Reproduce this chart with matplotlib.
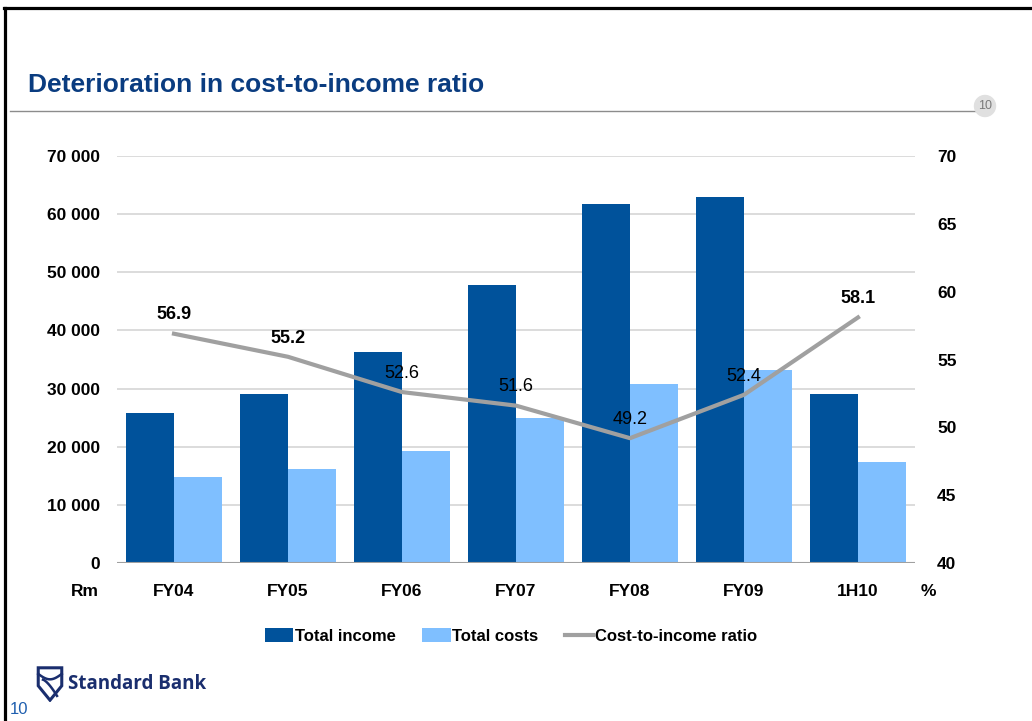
import numpy as np
import matplotlib as mpl
import matplotlib.pyplot as plt
from matplotlib.patches import Ellipse, Polygon
from matplotlib.lines import Line2D

plt.rcParams['font.family'] = ['Liberation Sans', 'DejaVu Sans']

### Data

periods = ["FY04", "FY05", "FY06", "FY07", "FY08", "FY09", "1H10"]
total_income = [25800, 29100, 36300, 47800, 61800, 62900, 29100]
total_costs = [14800, 16200, 19300, 24900, 30800, 33200, 17400]
cost_to_income = [56.9, 55.2, 52.6, 51.6, 49.2, 52.4, 58.1]

### Colours

c_income = "#00529B"
c_costs = "#7FBFFF"
c_ratio = "#A0A0A0"
c_title = "#0A3C80"

W, H = 1032, 721
fig = plt.figure(figsize=(W / 100, H / 100), dpi=100)

# slide frame, title and rule
fig.add_artist(Line2D([0.004, 1.0], [1 - 8 / H, 1 - 8 / H], color="black", lw=2.3))
fig.add_artist(Line2D([0.005, 0.005], [0, 1 - 8 / H], color="black", lw=2.3))
fig.text(28 / W, 1 - 85 / H, "Deterioration in cost-to-income ratio",
         fontsize=19, fontweight="bold", color=c_title, va="center", ha="left")
fig.add_artist(Line2D([10 / W, 975 / W], [1 - 111 / H, 1 - 111 / H], color="#8C8C8C", lw=1))
fig.add_artist(Ellipse((985 / W, 1 - 106 / H), 21 / W, 21 / H, transform=fig.transFigure,
                       color="#E0E0E0", zorder=3))
fig.text(985 / W, 1 - 106 / H, "10", fontsize=9, color="#7A7A7A", ha="center", va="center", zorder=4)

### Chart

ax = fig.add_axes([117 / W, 158 / H, 798 / W, 407 / H])
ax2 = ax.twinx()

x = np.arange(len(periods))
width = 0.417

ax.bar(x - width / 2, total_income, width, color=c_income, label="Total income", zorder=2)
ax.bar(x + width / 2, total_costs, width, color=c_costs, label="Total costs", zorder=2)

ax.set_xlim(-0.5, len(periods) - 0.5)
ax.set_ylim(0, 70000)
ax.set_yticks(np.arange(0, 70001, 10000))
ax.yaxis.set_major_formatter(mpl.ticker.FuncFormatter(lambda v, p: format(int(v), ',').replace(',', ' ')))
ax.grid(axis="y", color="#D9D9D9", lw=1.3, zorder=0)
ax.set_axisbelow(True)
ax.set_xticks(x)
ax.set_xticklabels(periods)

ax2.plot(x, cost_to_income, color=c_ratio, lw=3, label="Cost-to-income ratio", zorder=5)
ax2.set_ylim(40, 70)
ax2.set_yticks(np.arange(40, 71, 5))

bold_labels = [0, 1, 6]
for i, v in enumerate(cost_to_income):
    ax2.annotate("{:.1f}".format(v), xy=(x[i], v), xytext=(0, 13.5), textcoords="offset points",
                 ha="center", va="center", fontsize=13,
                 fontweight="bold" if i in bold_labels else "normal", color="black")

for a in (ax, ax2):
    for spine in a.spines.values():
        spine.set_visible(False)
ax.axhline(0, color="#A0A0A0", lw=1.5, zorder=3)

ax.tick_params(axis="y", length=0, pad=12, labelsize=12.5)
ax.tick_params(axis="x", length=0, pad=15, labelsize=12.5)
ax2.tick_params(axis="y", length=0, pad=16, labelsize=12.5)
for lab in ax.get_xticklabels() + ax.get_yticklabels() + ax2.get_yticklabels():
    lab.set_fontweight("bold")

fig.text(85 / W, 1 - 592 / H, "Rm", fontsize=12.5, fontweight="bold", ha="center", va="center")
fig.text(928 / W, 1 - 592 / H, "%", fontsize=12.5, fontweight="bold", ha="center", va="center")

h1, l1 = ax.get_legend_handles_labels()
h2, l2 = ax2.get_legend_handles_labels()
fig.legend(h1 + h2, l1 + l2, loc="center", bbox_to_anchor=(511 / W, 1 - 636 / H), ncol=3,
           frameon=False, prop={"weight": "bold", "size": 12}, handlelength=1.7, handleheight=0.85,
           handletextpad=0.1, columnspacing=1.6)

### Logo and page number

logo = fig.add_axes([36 / W, 1 - 702 / H, 28 / W, 36 / H])
logo.set_xlim(0, 1)
logo.set_ylim(0, 1)
logo.axis("off")
shield = Polygon([(0.08, 0.95), (0.92, 0.95), (0.92, 0.45), (0.5, 0.05), (0.08, 0.45)],
                 closed=True, fill=False, edgecolor="#1A2E6E", lw=2.2)
logo.add_patch(shield)
t = np.linspace(0, 1, 30)
logo.plot(0.08 + 0.84 * t, 0.78 - 0.15 * np.sin(np.pi * t), color="#1A2E6E", lw=1.8)
logo.plot(0.25 + 0.5 * t, 0.62 - 0.45 * t ** 1.4, color="#1A2E6E", lw=1.8)
fig.text(68 / W, 1 - 684 / H, "Standard Bank", fontsize=13.5, fontweight="bold",
         color="#1A2E6E", ha="left", va="center", family=["Open Sans", "DejaVu Sans"])
fig.text(10 / W, 1 - 710 / H, "10", fontsize=12, color="#1F5FAF", ha="left", va="center")

plt.savefig("out.png", dpi=100)
